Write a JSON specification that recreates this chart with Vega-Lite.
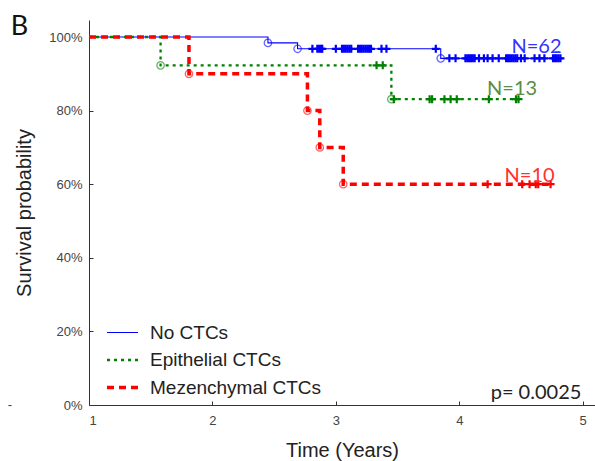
{
  "$schema": "https://vega.github.io/schema/vega-lite/v6.json",
  "width": 506,
  "height": 385,
  "autosize": {"type": "none"},
  "padding": {"left": 89, "top": 20, "right": 0, "bottom": 56},
  "background": "white",
  "config": {
    "view": {"stroke": null},
    "axis": {
      "grid": false,
      "domainColor": "#333",
      "tickColor": "#333",
      "tickSize": -4,
      "labelFont": "Liberation Sans",
      "labelFontSize": 13,
      "labelColor": "#444",
      "titleFont": "Liberation Sans",
      "titleFontSize": 20,
      "titleFontWeight": "normal",
      "titleColor": "#222"
    }
  },
  "datasets": {
    "curves": [
      {"group": "No CTCs", "t": 1, "s": 1},
      {"group": "No CTCs", "t": 2.45, "s": 0.984},
      {"group": "No CTCs", "t": 2.69, "s": 0.968},
      {"group": "No CTCs", "t": 3.85, "s": 0.942},
      {"group": "No CTCs", "t": 4.82, "s": 0.942},
      {"group": "Epithelial CTCs", "t": 1, "s": 1},
      {"group": "Epithelial CTCs", "t": 1.58, "s": 0.923},
      {"group": "Epithelial CTCs", "t": 3.45, "s": 0.831},
      {"group": "Epithelial CTCs", "t": 4.5, "s": 0.831},
      {"group": "Mezenchymal CTCs", "t": 1, "s": 1},
      {"group": "Mezenchymal CTCs", "t": 1.81, "s": 0.9},
      {"group": "Mezenchymal CTCs", "t": 2.77, "s": 0.8},
      {"group": "Mezenchymal CTCs", "t": 2.87, "s": 0.7},
      {"group": "Mezenchymal CTCs", "t": 3.06, "s": 0.6},
      {"group": "Mezenchymal CTCs", "t": 4.76, "s": 0.6}
    ],
    "censors": [
      {"group": "No CTCs", "t": 2.81, "s": 0.968},
      {"group": "No CTCs", "t": 2.85, "s": 0.968},
      {"group": "No CTCs", "t": 2.865, "s": 0.968},
      {"group": "No CTCs", "t": 2.88, "s": 0.968},
      {"group": "No CTCs", "t": 2.89, "s": 0.968},
      {"group": "No CTCs", "t": 3.0, "s": 0.968},
      {"group": "No CTCs", "t": 3.05, "s": 0.968},
      {"group": "No CTCs", "t": 3.065, "s": 0.968},
      {"group": "No CTCs", "t": 3.08, "s": 0.968},
      {"group": "No CTCs", "t": 3.095, "s": 0.968},
      {"group": "No CTCs", "t": 3.11, "s": 0.968},
      {"group": "No CTCs", "t": 3.125, "s": 0.968},
      {"group": "No CTCs", "t": 3.18, "s": 0.968},
      {"group": "No CTCs", "t": 3.195, "s": 0.968},
      {"group": "No CTCs", "t": 3.21, "s": 0.968},
      {"group": "No CTCs", "t": 3.225, "s": 0.968},
      {"group": "No CTCs", "t": 3.24, "s": 0.968},
      {"group": "No CTCs", "t": 3.255, "s": 0.968},
      {"group": "No CTCs", "t": 3.27, "s": 0.968},
      {"group": "No CTCs", "t": 3.285, "s": 0.968},
      {"group": "No CTCs", "t": 3.37, "s": 0.968},
      {"group": "No CTCs", "t": 3.41, "s": 0.968},
      {"group": "No CTCs", "t": 3.81, "s": 0.968},
      {"group": "No CTCs", "t": 3.92, "s": 0.942},
      {"group": "No CTCs", "t": 3.97, "s": 0.942},
      {"group": "No CTCs", "t": 4.05, "s": 0.942},
      {"group": "No CTCs", "t": 4.065, "s": 0.942},
      {"group": "No CTCs", "t": 4.08, "s": 0.942},
      {"group": "No CTCs", "t": 4.095, "s": 0.942},
      {"group": "No CTCs", "t": 4.11, "s": 0.942},
      {"group": "No CTCs", "t": 4.125, "s": 0.942},
      {"group": "No CTCs", "t": 4.16, "s": 0.942},
      {"group": "No CTCs", "t": 4.2, "s": 0.942},
      {"group": "No CTCs", "t": 4.23, "s": 0.942},
      {"group": "No CTCs", "t": 4.27, "s": 0.942},
      {"group": "No CTCs", "t": 4.32, "s": 0.942},
      {"group": "No CTCs", "t": 4.38, "s": 0.942},
      {"group": "No CTCs", "t": 4.395, "s": 0.942},
      {"group": "No CTCs", "t": 4.41, "s": 0.942},
      {"group": "No CTCs", "t": 4.425, "s": 0.942},
      {"group": "No CTCs", "t": 4.44, "s": 0.942},
      {"group": "No CTCs", "t": 4.455, "s": 0.942},
      {"group": "No CTCs", "t": 4.47, "s": 0.942},
      {"group": "No CTCs", "t": 4.5, "s": 0.942},
      {"group": "No CTCs", "t": 4.53, "s": 0.942},
      {"group": "No CTCs", "t": 4.61, "s": 0.942},
      {"group": "No CTCs", "t": 4.65, "s": 0.942},
      {"group": "No CTCs", "t": 4.69, "s": 0.942},
      {"group": "No CTCs", "t": 4.76, "s": 0.942},
      {"group": "No CTCs", "t": 4.775, "s": 0.942},
      {"group": "No CTCs", "t": 4.79, "s": 0.942},
      {"group": "No CTCs", "t": 4.805, "s": 0.942},
      {"group": "No CTCs", "t": 4.82, "s": 0.942},
      {"group": "Epithelial CTCs", "t": 3.33, "s": 0.923},
      {"group": "Epithelial CTCs", "t": 3.38, "s": 0.923},
      {"group": "Epithelial CTCs", "t": 3.47, "s": 0.831},
      {"group": "Epithelial CTCs", "t": 3.76, "s": 0.831},
      {"group": "Epithelial CTCs", "t": 3.78, "s": 0.831},
      {"group": "Epithelial CTCs", "t": 3.88, "s": 0.831},
      {"group": "Epithelial CTCs", "t": 3.93, "s": 0.831},
      {"group": "Epithelial CTCs", "t": 3.98, "s": 0.831},
      {"group": "Epithelial CTCs", "t": 4.24, "s": 0.831},
      {"group": "Epithelial CTCs", "t": 4.46, "s": 0.831},
      {"group": "Epithelial CTCs", "t": 4.48, "s": 0.831},
      {"group": "Mezenchymal CTCs", "t": 4.23, "s": 0.6},
      {"group": "Mezenchymal CTCs", "t": 4.51, "s": 0.6},
      {"group": "Mezenchymal CTCs", "t": 4.57, "s": 0.6},
      {"group": "Mezenchymal CTCs", "t": 4.62, "s": 0.6},
      {"group": "Mezenchymal CTCs", "t": 4.64, "s": 0.6},
      {"group": "Mezenchymal CTCs", "t": 4.74, "s": 0.6}
    ],
    "events": [
      {"group": "No CTCs", "t": 2.45, "s": 0.984},
      {"group": "No CTCs", "t": 2.69, "s": 0.968},
      {"group": "No CTCs", "t": 3.85, "s": 0.942},
      {"group": "Epithelial CTCs", "t": 1.58, "s": 0.923},
      {"group": "Epithelial CTCs", "t": 3.45, "s": 0.831},
      {"group": "Mezenchymal CTCs", "t": 1.81, "s": 0.9},
      {"group": "Mezenchymal CTCs", "t": 2.77, "s": 0.8},
      {"group": "Mezenchymal CTCs", "t": 2.87, "s": 0.7},
      {"group": "Mezenchymal CTCs", "t": 3.06, "s": 0.6}
    ],
    "notes": [
      {"label": "N=62", "t": 4.626, "s": 0.9565},
      {"label": "N=13", "t": 4.428, "s": 0.842},
      {"label": "N=10", "t": 4.57, "s": 0.606},
      {"label": "p= 0.0025", "t": 4.622, "s": 0.0155}
    ]
  },
  "layer": [
    {
      "data": {"name": "curves"},
      "mark": {"type": "line", "interpolate": "step-after", "clip": true},
      "encoding": {
        "x": {
          "field": "t", "type": "quantitative",
          "scale": {"domain": [1, 5.1], "nice": false, "zero": false},
          "axis": {"values": [1, 2, 3, 4, 5], "format": "d", "labelPadding": 13, "title": "Time (Years)", "titlePadding": 13}
        },
        "y": {
          "field": "s", "type": "quantitative",
          "scale": {"domain": [0, 1.0462], "nice": false},
          "axis": {"values": [0, 0.2, 0.4, 0.6, 0.8, 1], "format": ".0%", "labelPadding": 11, "title": "Survival probability", "titlePadding": 14}
        },
        "color": {
          "field": "group", "type": "nominal",
          "scale": {"domain": ["No CTCs", "Epithelial CTCs", "Mezenchymal CTCs"], "range": ["#0000ff", "#008000", "#ff0000"]},
          "legend": {"orient": "none", "legendX": 16, "legendY": 296, "title": null, "symbolType": "stroke", "symbolSize": 961, "labelFont": "Liberation Sans", "labelFontSize": 19, "labelColor": "#222", "labelOffset": 10, "labelLimit": 400, "rowPadding": -6, "padding": 0}
        },
        "strokeDash": {
          "field": "group", "type": "nominal",
          "scale": {"domain": ["No CTCs", "Epithelial CTCs", "Mezenchymal CTCs"], "range": [[1, 0], [3, 4], [7, 5]]},
          "legend": {"orient": "none", "legendX": 16, "legendY": 296, "title": null, "symbolType": "stroke", "symbolSize": 961, "labelFont": "Liberation Sans", "labelFontSize": 19, "labelColor": "#222", "labelOffset": 10, "labelLimit": 400, "rowPadding": -6, "padding": 0}
        },
        "strokeWidth": {
          "field": "group", "type": "nominal",
          "scale": {"domain": ["No CTCs", "Epithelial CTCs", "Mezenchymal CTCs"], "range": [1.1, 3.5, 3.5]},
          "legend": {"orient": "none", "legendX": 16, "legendY": 296, "title": null, "symbolType": "stroke", "symbolSize": 961, "labelFont": "Liberation Sans", "labelFontSize": 19, "labelColor": "#222", "labelOffset": 10, "labelLimit": 400, "rowPadding": -6, "padding": 0}
        }
      }
    },
    {
      "data": {"name": "censors"},
      "mark": {"type": "point", "shape": "M-1,0H1M0,-1V1", "filled": false, "strokeWidth": 2.2, "size": 64, "opacity": 1},
      "encoding": {
        "x": {"field": "t", "type": "quantitative"},
        "y": {"field": "s", "type": "quantitative"},
        "stroke": {
          "field": "group", "type": "nominal",
          "scale": {"domain": ["No CTCs", "Epithelial CTCs", "Mezenchymal CTCs"], "range": ["#0000ff", "#008000", "#ff0000"]},
          "legend": null
        }
      }
    },
    {
      "data": {"name": "events"},
      "mark": {"type": "point", "shape": "circle", "filled": false, "strokeWidth": 1.3, "size": 55, "opacity": 0.6},
      "encoding": {
        "x": {"field": "t", "type": "quantitative"},
        "y": {"field": "s", "type": "quantitative"},
        "stroke": {"field": "group", "type": "nominal", "legend": null}
      }
    },
    {
      "data": {"name": "notes"},
      "mark": {"type": "text", "font": "Lato", "fontSize": 20, "align": "center", "baseline": "alphabetic"},
      "encoding": {
        "x": {"field": "t", "type": "quantitative"},
        "y": {"field": "s", "type": "quantitative"},
        "text": {"field": "label"},
        "fill": {
          "field": "label", "type": "nominal",
          "scale": {"domain": ["N=62", "N=13", "N=10", "p= 0.0025"], "range": ["#3333ff", "#5b8c45", "#ff3030", "#222222"]},
          "legend": null
        }
      }
    },
    {
      "data": {"values": [{"label": "B", "t": 0.437, "s": 1.0054}]},
      "mark": {"type": "text", "font": "Lato", "fontSize": 27, "align": "center", "baseline": "alphabetic", "color": "#111"},
      "encoding": {
        "x": {"field": "t", "type": "quantitative"},
        "y": {"field": "s", "type": "quantitative"},
        "text": {"field": "label"}
      }
    },
    {
      "data": {"values": [{"label": "-", "t": 0.36, "s": 0.0}]},
      "mark": {"type": "text", "font": "Liberation Sans", "fontSize": 13, "align": "center", "baseline": "middle", "color": "#444"},
      "encoding": {
        "x": {"field": "t", "type": "quantitative"},
        "y": {"field": "s", "type": "quantitative"},
        "text": {"field": "label"}
      }
    }
  ]
}
